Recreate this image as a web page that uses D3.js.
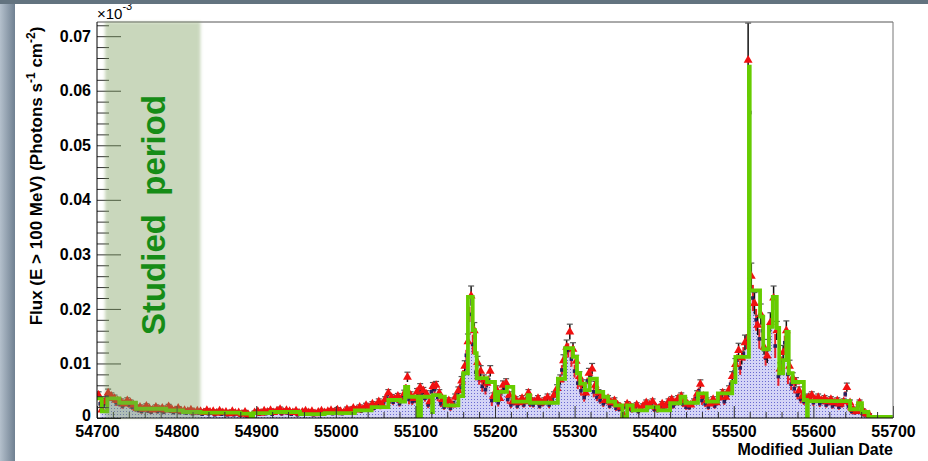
<!DOCTYPE html>
<html>
<head>
<meta charset="utf-8">
<script src="https://d3js.org/d3.v7.min.js"></script>
<style>
  body { margin: 0; background: #fff; }
  svg { display: block; font-family: "Liberation Sans", Arial, sans-serif; }
</style>
</head>
<body>
<script>
var width = 928, height = 461;

// flux values in axis units x1000 (so 10 == label "0.01")
var binDays = 4;
var triStart = 54702;   // red triangles, one every 4 days
var triFlux = [
  4.2,1.5,3.0,4.6,4.0,3.6,3.2,3.0,2.6,3.2,
  2.8,2.4,1.8,2.0,1.6,2.2,1.7,1.5,2.0,1.6,
  1.8,1.5,2.1,1.6,1.4,1.8,1.3,1.4,1.2,1.5,
  1.1,1.3,1.2,1.0,1.4,1.1,1.2,0.9,1.3,1.0,
  1.1,0.8,1.2,0.9,1.0,0.7,1.1,0.6,0.3,1.0,
  1.2,0.9,1.3,1.1,1.4,1.0,1.3,1.6,1.1,1.4,
  1.2,1.0,1.3,0.9,1.1,1.3,1.0,1.2,0.8,1.1,
  1.3,1.0,1.2,1.4,1.1,1.5,1.2,1.0,1.6,1.3,
  1.8,1.5,2.0,1.6,2.3,1.9,2.6,2.2,3.0,2.5,
  3.4,4.6,3.8,3.5,4.0,3.2,4.5,7.5,4.2,3.6,
  4.8,5.6,5.0,4.4,3.0,5.8,6.0,4.6,3.4,2.8,
  3.2,2.4,3.8,5.0,6.8,9.5,14.0,22.4,16.0,10.2,
  8.6,7.0,6.4,8.6,4.0,5.2,3.6,6.0,6.4,4.2,
  3.0,3.4,2.8,3.6,3.0,4.6,3.2,3.0,3.6,2.8,
  3.2,3.8,3.0,4.2,5.4,7.0,10.5,13.0,15.8,12.6,
  10.4,7.6,6.2,4.6,8.2,9.0,6.0,4.6,4.0,3.2,
  3.6,2.8,3.2,2.4,2.0,0.4,2.6,2.2,1.8,2.4,
  1.6,2.2,2.8,2.4,3.0,2.0,1.8,2.6,2.2,3.0,
  3.4,2.8,3.6,4.0,3.2,2.6,2.4,3.0,4.4,6.2,
  4.0,3.2,2.6,3.4,2.8,3.8,4.6,3.8,5.2,7.6,
  9.8,12.4,11.0,13.8,65.6,26.0,21.0,17.0,19.0,13.0,
  11.4,17.5,22.0,16.0,9.0,12.0,16.0,9.5,7.4,6.6,
  5.0,4.0,3.6,3.8,4.2,3.4,3.8,3.2,3.6,3.0,
  3.4,2.8,3.2,2.6,3.0,5.6,2.8,1.6,1.2,2.8,
  1.4,0.8,0.6
];
var fluxErr = [
  0.6,0.5,0.6,0.7,0.6,0.6,0.5,0.5,0.5,0.5,
  0.5,0.4,0.4,0.4,0.4,0.4,0.4,0.4,0.4,0.4,
  0.4,0.4,0.4,0.3,0.3,0.3,0.3,0.3,0.3,0.3,
  0.3,0.3,0.3,0.3,0.3,0.3,0.3,0.3,0.3,0.3,
  0.3,0.3,0.3,0.3,0.3,0.3,0.3,0.3,0.2,0.3,
  0.3,0.3,0.3,0.3,0.3,0.3,0.3,0.4,0.3,0.3,
  0.3,0.3,0.3,0.3,0.3,0.3,0.3,0.3,0.3,0.3,
  0.3,0.3,0.3,0.3,0.3,0.4,0.3,0.3,0.4,0.3,
  0.3,0.3,0.4,0.3,0.4,0.4,0.4,0.4,0.5,0.4,
  0.5,0.6,0.5,0.5,0.5,0.5,0.6,0.9,0.6,0.5,
  0.6,0.7,0.6,0.6,0.5,0.7,0.7,0.6,0.5,0.5,
  0.5,0.4,0.6,0.7,0.8,1.0,1.4,1.8,1.5,1.1,
  1.0,0.9,0.8,1.0,0.6,0.7,0.6,0.8,0.8,0.6,
  0.5,0.5,0.5,0.5,0.5,0.6,0.5,0.5,0.5,0.5,
  0.5,0.6,0.5,0.6,0.7,0.9,1.1,1.3,1.4,1.2,
  1.1,0.9,0.8,0.6,0.9,1.0,0.7,0.6,0.6,0.5,
  0.5,0.5,0.5,0.4,0.4,0.3,0.4,0.4,0.4,0.4,
  0.4,0.4,0.5,0.4,0.5,0.4,0.4,0.4,0.4,0.5,
  0.5,0.5,0.5,0.6,0.5,0.4,0.4,0.5,0.6,0.8,
  0.6,0.5,0.4,0.5,0.5,0.6,0.6,0.6,0.7,0.9,
  1.1,1.3,1.2,1.4,6.8,2.4,2.0,1.8,1.9,1.4,
  1.3,1.8,2.2,1.7,1.1,1.3,1.8,1.1,0.9,0.8,
  0.7,0.6,0.6,0.6,0.6,0.5,0.6,0.5,0.5,0.5,
  0.5,0.5,0.5,0.5,0.5,0.8,0.5,0.4,0.3,0.5,
  0.3,0.3,0.2
];
var dayStart = 54704;   // dark points + shaded histogram, offset by 2 days
var dayFlux = [
  2.6,2.2,4.0,3.8,3.4,2.8,2.6,2.2,2.8,2.4,
  2.0,1.6,1.4,1.2,1.8,1.3,1.1,1.6,1.2,1.4,
  1.1,1.7,1.3,1.0,1.4,1.0,1.1,0.9,1.2,0.8,
  1.0,0.9,0.7,1.1,0.8,0.9,0.6,1.0,0.7,0.8,
  0.6,0.9,0.6,0.8,0.5,0.8,0.4,0.3,0.7,0.9,
  0.7,1.0,0.8,1.1,0.7,1.0,1.2,0.8,1.1,0.9,
  0.7,1.0,0.6,0.8,1.0,0.7,0.9,0.6,0.8,1.0,
  0.7,0.9,1.1,0.8,1.2,0.9,0.8,1.3,1.0,1.4,
  1.2,1.7,1.3,1.9,1.6,2.2,1.8,2.6,2.1,2.8,
  3.8,3.2,2.9,3.4,2.6,3.8,5.6,3.4,3.0,3.2,
  4.6,4.2,3.6,2.4,4.8,5.2,3.8,2.6,2.0,2.4,
  1.8,2.8,4.2,5.6,8.0,11.5,19.0,13.5,8.4,7.2,
  5.8,5.2,7.0,3.2,4.2,2.8,4.8,5.4,3.4,2.4,
  2.8,2.2,3.0,2.4,3.6,2.6,2.4,3.0,2.2,2.6,
  3.0,2.4,3.4,4.4,5.8,8.8,11.0,12.4,10.8,8.6,
  6.4,5.0,3.8,6.8,7.6,4.8,3.8,3.2,2.6,3.0,
  2.2,2.6,1.8,1.6,0.6,2.0,1.6,1.4,1.8,1.2,
  1.8,2.2,1.9,2.4,1.6,1.4,2.0,1.8,2.4,2.8,
  2.2,3.0,3.4,2.6,2.0,1.9,2.4,3.6,5.0,3.2,
  2.6,2.0,2.8,2.2,3.0,3.8,3.0,4.2,6.2,8.4,
  10.6,9.2,11.8,14.0,56.0,22.0,18.0,14.5,16.0,11.0,
  14.6,19.0,13.2,7.6,10.2,13.8,8.0,6.2,5.4,4.2,
  3.4,3.0,3.2,3.6,2.8,3.2,2.6,3.0,2.4,2.8,
  2.2,2.6,2.0,2.4,4.4,2.2,1.2,1.0,2.2,1.0,
  0.6,0.4
];

// bayesian blocks (green steps): block start MJD and level
var blockStart = [54700,54706,54713,54728,54749,54787,54808,54830,54880,54893,
  54896,54918,54955,54986,55024,55045,55066,55081,55087,55091,
  55103,55107,55121,55122,55131,55137,55154,55160,55166,55172,
  55175,55177,55190,55200,55204,55215,55223,55241,55244,55279,
  55288,55298,55303,55307,55313,55319,55328,55336,55342,55351,
  55360,55366,55373,55391,55405,55420,55433,55439,55455,55466,
  55480,55498,55502,55519,55520,55533,55537,55544,55549,55554,
  55557,55562,55566,55569,55574,55588,55592,55593,55646,55656,
  55661,55669];
var blockLevel = [3.6,1.2,3.6,2.8,1.7,1.4,1.1,1.0,0.8,0.2,
  0.9,1.1,0.7,0.9,1.4,2.0,3.3,3.0,5.7,3.9,
  0.0,3.9,1.1,4.2,3.9,2.3,4.0,8.2,22.2,16.1,
  11.9,7.3,6.6,3.3,4.8,5.7,3.0,4.2,2.8,7.2,
  12.8,11.2,8.2,6.3,5.1,7.2,4.8,3.9,3.0,2.3,
  0.2,2.3,1.4,2.0,1.4,2.7,3.9,2.8,4.5,3.0,
  4.5,6.6,11.2,64.4,23.4,18.6,12.6,16.7,22.2,16.5,
  8.2,10.6,15.8,8.2,6.6,3.3,0.0,3.1,1.6,2.7,
  1.1,0.2];
var blockEnd = 55700;

var studied = [54710, 54830];
var xTicks = [54700,54800,54900,55000,55100,55200,55300,55400,55500,55600,55700];
var yTicks = [0,10,20,30,40,50,60,70];
var yTickLabels = ["0","0.01","0.02","0.03","0.04","0.05","0.06","0.07"];

var svg = d3.select("body").append("svg")
  .attr("width", width)
  .attr("height", height);

var defs = svg.append("defs");
var grad = defs.append("linearGradient").attr("id", "side");
grad.append("stop").attr("offset", "0%").attr("stop-color", "#b4c0cc");
grad.append("stop").attr("offset", "100%").attr("stop-color", "#6f8091");

var pat = defs.append("pattern").attr("id", "dots")
  .attr("width", 3).attr("height", 3).attr("patternUnits", "userSpaceOnUse");
pat.append("rect").attr("width", 3).attr("height", 3).attr("fill", "#d4d4f6");
pat.append("rect").attr("width", 1).attr("height", 1).attr("fill", "#6a6ad0");

defs.append("filter").attr("id", "soft")
  .append("feGaussianBlur").attr("stdDeviation", 1.5);

defs.append("clipPath").attr("id", "plot")
  .append("rect").attr("x", 97).attr("y", 22).attr("width", 796).attr("height", 396);

// slide background
svg.append("rect").attr("width", 15).attr("height", height).attr("fill", "url(#side)");
svg.append("rect").attr("x", 15).attr("width", width - 15).attr("height", height).attr("fill", "#fff");

var x = d3.scaleLinear().domain([54700, 55700]).range([97, 893]);
var y = d3.scaleLinear().domain([0, 72.6]).range([418, 22]);

var tri = triFlux.map(function(v, i) { return { t: triStart + i * binDays, v: v, e: fluxErr[i] }; });
var day = dayFlux.map(function(v, i) { return { t: dayStart + i * binDays, v: v, e: fluxErr[i] }; });
var blocks = blockStart.map(function(t, i) { return { t: t, v: blockLevel[i] }; });
blocks.push({ t: blockEnd, v: blockLevel[blockLevel.length - 1] });

var g = svg.append("g").attr("clip-path", "url(#plot)");

// shaded histogram
g.append("path")
  .datum(day)
  .attr("fill", "url(#dots)")
  .attr("d", d3.area().curve(d3.curveStep)
    .x(function(d) { return x(d.t); })
    .y0(y(0))
    .y1(function(d) { return y(d.v); }));

// dark points with red bars
g.selectAll(".dbar").data(day).enter().append("line")
  .attr("x1", function(d) { return x(d.t); }).attr("x2", function(d) { return x(d.t); })
  .attr("y1", function(d) { return y(d.v + d.e); })
  .attr("y2", function(d) { return y(Math.max(d.v - d.e, 0)); })
  .attr("stroke", "#e8202a").attr("stroke-width", 2);
g.selectAll(".dpt").data(day).enter().append("rect")
  .attr("x", function(d) { return x(d.t) - 1.8; })
  .attr("y", function(d) { return y(d.v) - 1.8; })
  .attr("width", 3.6).attr("height", 3.6)
  .attr("fill", "#2a1f5e");

// black error bars of the triangles
g.selectAll(".tbar").data(tri).enter().append("line")
  .attr("x1", function(d) { return x(d.t); }).attr("x2", function(d) { return x(d.t); })
  .attr("y1", function(d) { return y(d.v + d.e); })
  .attr("y2", function(d) { return y(Math.max(d.v - d.e, 0)); })
  .attr("stroke", "#111").attr("stroke-width", 1.5);
g.selectAll(".tcap").data(tri).enter().append("line")
  .attr("x1", function(d) { return x(d.t) - 3; }).attr("x2", function(d) { return x(d.t) + 3; })
  .attr("y1", function(d) { return y(d.v + d.e); })
  .attr("y2", function(d) { return y(d.v + d.e); })
  .attr("stroke", "#555").attr("stroke-width", 1.2);

g.selectAll(".tri").data(tri).enter().append("path")
  .attr("d", d3.symbol().type(d3.symbolTriangle).size(34))
  .attr("transform", function(d) { return "translate(" + x(d.t) + "," + y(d.v) + ")"; })
  .attr("fill", "#f01010");

// bayesian blocks
g.append("path")
  .datum(blocks)
  .attr("fill", "none")
  .attr("stroke", "#66cc00")
  .attr("stroke-width", 3.8)
  .attr("d", d3.line().curve(d3.curveStepAfter)
    .x(function(d) { return x(d.t); })
    .y(function(d) { return y(d.v); }));

// axes
var yMinor = d3.range(0, 73, 2).filter(function(v) { return v % 10 !== 0; });
var xMinor = d3.range(54700, 55701, 20).filter(function(v) { return v % 100 !== 0; });

svg.append("g").attr("transform", "translate(97,0)")
  .call(d3.axisLeft(y).tickValues(yTicks).tickSize(-24).tickPadding(6)
    .tickFormat(function(d, i) { return yTickLabels[i]; }));
svg.append("g").attr("transform", "translate(97,0)")
  .call(d3.axisLeft(y).tickValues(yMinor).tickSize(-12).tickFormat(""));
svg.append("g").attr("transform", "translate(0,418)")
  .call(d3.axisBottom(x).tickValues(xTicks).tickSize(-12).tickPadding(8).tickFormat(d3.format("d")));
svg.append("g").attr("transform", "translate(0,418)")
  .call(d3.axisBottom(x).tickValues(xMinor).tickSize(-6).tickFormat(""));

svg.selectAll(".domain").remove();
svg.selectAll(".tick line").attr("stroke", "#333");
svg.selectAll(".tick text")
  .attr("font-size", 16).attr("font-weight", "bold").attr("fill", "#000")
  .attr("font-family", "Liberation Sans, Arial, sans-serif");
// keep the zero label clear of the first date label
svg.selectAll(".tick text").filter(function(d) { return d === 0; }).attr("y", -3);

// frame
svg.append("line").attr("x1", 97).attr("x2", 893).attr("y1", 22).attr("y2", 22).attr("stroke", "#555");
svg.append("line").attr("x1", 893).attr("x2", 893).attr("y1", 22).attr("y2", 418).attr("stroke", "#777");
svg.append("line").attr("x1", 97).attr("x2", 97).attr("y1", 22).attr("y2", 418).attr("stroke", "#000");
svg.append("line").attr("x1", 97).attr("x2", 893).attr("y1", 418).attr("y2", 418).attr("stroke", "#000");

// studied period band
svg.append("rect")
  .attr("x", x(studied[0])).attr("y", 22)
  .attr("width", x(studied[1]) - x(studied[0])).attr("height", 396)
  .attr("fill", "#7a9e5a").attr("opacity", 0.4)
  .attr("filter", "url(#soft)");

svg.append("text")
  .attr("transform", "translate(165,215) rotate(-90)")
  .attr("text-anchor", "middle")
  .attr("font-size", 33).attr("font-weight", "bold")
  .attr("fill", "#168c16")
  .style("white-space", "pre")
  .text("Studied  period");

// axis titles
var yt = svg.append("text")
  .attr("transform", "translate(42,176) rotate(-90)")
  .attr("text-anchor", "middle")
  .attr("font-size", 17).attr("font-weight", "bold");
yt.append("tspan").text("Flux (E > 100 MeV) (Photons s");
yt.append("tspan").attr("dy", -7).attr("font-size", 12).text("-1");
yt.append("tspan").attr("dy", 7).text(" cm");
yt.append("tspan").attr("dy", -7).attr("font-size", 12).text("-2");
yt.append("tspan").attr("dy", 7).text(")");

svg.append("text")
  .attr("x", 893).attr("y", 455)
  .attr("text-anchor", "end")
  .attr("font-size", 16).attr("font-weight", "bold")
  .text("Modified Julian Date");

var ex = svg.append("text").attr("x", 97).attr("y", 19).attr("font-size", 15);
ex.append("tspan").text("\u00d710");
ex.append("tspan").attr("dy", -9).attr("font-size", 11).text("-3");

// top strip of the slide
svg.append("rect").attr("width", width).attr("height", 4).attr("fill", "#63737f");
</script>
</body>
</html>
